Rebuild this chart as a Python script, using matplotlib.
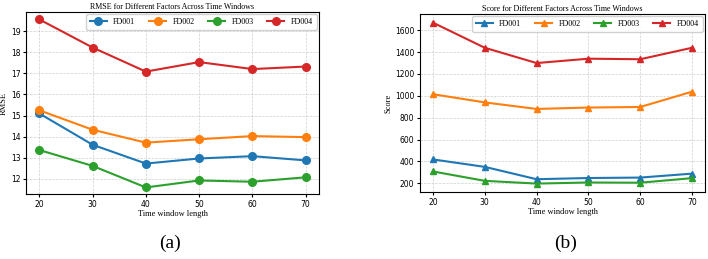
import matplotlib
matplotlib.use('Agg')
import matplotlib.pyplot as plt

windows = [20, 30, 40, 50, 60, 70]
names = ['FD001', 'FD002', 'FD003', 'FD004']
colors = ['#1f77b4', '#ff7f0e', '#2ca02c', '#d62728']

rmse_fd001 = [15.10, 13.62, 12.73, 12.97, 13.08, 12.88]
rmse_fd002 = [15.25, 14.33, 13.72, 13.88, 14.03, 13.98]
rmse_fd003 = [13.37, 12.62, 11.60, 11.93, 11.87, 12.08]
rmse_fd004 = [19.55, 18.22, 17.08, 17.53, 17.20, 17.32]

score_fd001 = [418, 350, 237, 248, 252, 288]
score_fd002 = [1015, 940, 880, 893, 898, 1038]
score_fd003 = [308, 222, 197, 207, 205, 247]
score_fd004 = [1670, 1440, 1300, 1340, 1335, 1440]

serif = 'Liberation Serif'

fig = plt.figure(figsize=(7.08, 2.59), dpi=100)
ax1 = fig.add_axes([26/708, 1-194/259, 293/708, 182/259])
ax2 = fig.add_axes([420/708, 1-192/259, 285/708, 178/259])

def draw(ax, series, marker, title, ylabel, yticks):
    for vals, name, c in zip(series, names, colors):
        ax.plot(windows, vals, color=c, marker=marker, markersize=5.5 if marker == 'o' else 5,
                linewidth=1.5, label=name)
    ax.set_title(title, fontsize=5.8, family=serif, pad=2.5)
    ax.set_xlabel('Time window length', fontsize=6, family=serif, labelpad=1)
    ax.set_ylabel(ylabel, fontsize=6, family=serif, labelpad=2)
    ax.set_xticks(windows)
    ax.set_yticks(yticks)
    ax.tick_params(labelsize=5.5, length=2, pad=2)
    ax.grid(True, linestyle='--', linewidth=0.5, alpha=0.6)
    ax.legend(ncol=4, loc='upper right', prop={'family': serif, 'size': 5.8},
              handlelength=2.1, columnspacing=1.7, borderpad=0.45,
              handletextpad=0.8, borderaxespad=0.3, framealpha=0.9)
    for sp in ax.spines.values():
        sp.set_linewidth(0.8)

draw(ax1, [rmse_fd001, rmse_fd002, rmse_fd003, rmse_fd004], 'o',
     'RMSE for Different Factors Across Time Windows', 'RMSE', range(12, 20))
ax1.set_ylim(11.29, 19.9)

draw(ax2, [score_fd001, score_fd002, score_fd003, score_fd004], '^',
     'Score for Different Factors Across Time Windows', 'Score', range(200, 1601, 200))
ax2.set_ylim(120, 1749)

fig.text(170/708, 1-243/259, '(a)', fontsize=14, family=serif, ha='center', va='center')
fig.text(566/708, 1-243/259, '(b)', fontsize=14, family=serif, ha='center', va='center')

fig.savefig('out.png', dpi=100)
